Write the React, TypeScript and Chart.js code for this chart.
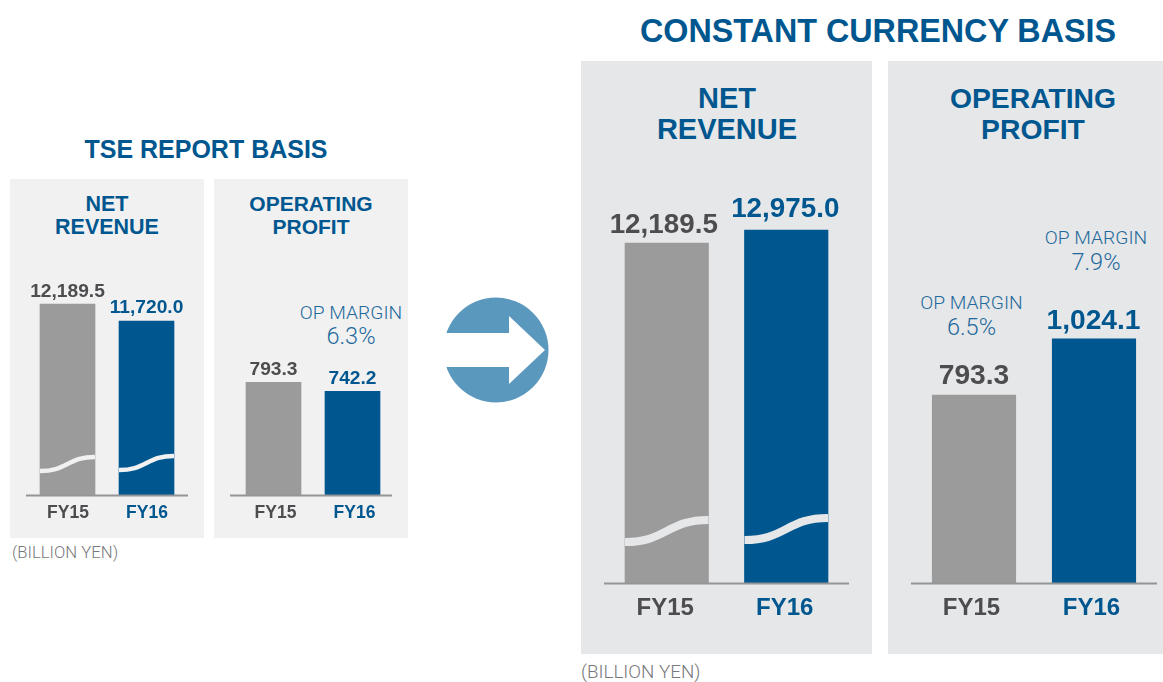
import React, { useEffect, useRef } from "react";
import { Chart, registerables } from "chart.js";

Chart.register(...registerables);

const categories = ["FY15", "FY16"];
const tseRevenue = [12189.5, 11720.0];
const tseProfit = [793.3, 742.2];
const ccRevenue = [12189.5, 12975.0];
const ccProfit = [793.3, 1024.1];

const GREY_BAR = "#9b9b9b";
const BLUE = "#00578f";
const DARK = "#4d4d4f";
const AXIS = "#939598";
const PANEL_L = "#f1f1f2";
const PANEL_R = "#e6e7e9";
const FONT = '"Liberation Sans", Arial, sans-serif';
const THIN = 'Roboto, "Liberation Sans", sans-serif';

type Spec = {
  values: number[];
  panel: [number, number, number, number];
  plotL: number; plotR: number; axisY: number;
  yMin: number; yMax: number;
  bar: number; valueFont: number; tickFont: number; tickPad: number; labelOffset: number;
  valueGap: [number, number]; valueDx: [number, number]; overL: number; overR: number; panelColor: string;
  breaks?: [number, number][]; breakWidth?: number;
};

const specs: Spec[] = [
  { values: tseRevenue, panel: [10, 179, 194, 359], plotL: 28, plotR: 186, axisY: 495, yMin: 6918, yMax: 15364, bar: 55, valueFont: 19.2, tickFont: 17.5, tickPad: 8, labelOffset: 0.5, valueGap: [7, 8], valueDx: [0, 0], overL: 2, overR: 2, panelColor: PANEL_L, breaks: [[24, 38], [25, 39]], breakWidth: 4.5 },
  { values: tseProfit, panel: [214, 179, 194, 359], plotL: 234, plotR: 392, axisY: 495, yMin: 155, yMax: 1889, bar: 55, valueFont: 19.2, tickFont: 17.5, tickPad: 8, labelOffset: 2, valueGap: [7, 7], valueDx: [0, 0], overL: 4, overR: 0, panelColor: PANEL_L },
  { values: ccRevenue, panel: [581, 61, 291, 593], plotL: 607, plotR: 846, axisY: 583, yMin: -8347, yMax: 22578, bar: 83.5, valueFont: 27.8, tickFont: 24, tickPad: 11, labelOffset: -1.5, valueGap: [10, 13], valueDx: [-3, -1], overL: 3, overR: 3, panelColor: PANEL_R, breaks: [[41, 63], [43, 65]], breakWidth: 8 },
  { values: ccProfit, panel: [888, 61, 275, 593], plotL: 914, plotR: 1154, axisY: 583, yMin: 18.7, yMax: 2128, bar: 83.5, valueFont: 28.2, tickFont: 24, tickPad: 11, labelOffset: -2.5, valueGap: [11, 10], valueDx: [0, -0.5], overL: 3, overR: 3, panelColor: PANEL_R },
];

const decor = {
  id: "decor",
  afterDatasetsDraw(chart: any) {
    const s: Spec = chart.options.plugins.decor.spec;
    const { ctx, chartArea } = chart;
    const meta = chart.getDatasetMeta(0);
    ctx.save();
    // broken-axis wave across tall bars
    if (s.breaks) {
      meta.data.forEach((el: any, i: number) => {
        const xl = el.x - s.bar / 2;
        const xr = el.x + s.bar / 2;
        const [a, b] = s.breaks![i];
        const y0 = chartArea.bottom - a;
        const y1 = chartArea.bottom - b;
        ctx.save();
        ctx.beginPath();
        ctx.rect(xl, chartArea.top, s.bar, chartArea.bottom - chartArea.top);
        ctx.clip();
        ctx.beginPath();
        ctx.moveTo(xl - 2, y0);
        ctx.bezierCurveTo(xl + s.bar * 0.5, y0 + 1, xl + s.bar * 0.5, y1 - 1, xr + 2, y1);
        ctx.strokeStyle = s.panelColor;
        ctx.lineWidth = s.breakWidth;
        ctx.stroke();
        ctx.restore();
      });
    }
    // baseline
    ctx.beginPath();
    ctx.moveTo(chartArea.left - s.overL, chartArea.bottom + 0.5);
    ctx.lineTo(chartArea.right + s.overR, chartArea.bottom + 0.5);
    ctx.strokeStyle = AXIS;
    ctx.lineWidth = 2;
    ctx.stroke();
    // value labels
    ctx.font = `bold ${s.valueFont}px ${FONT}`;
    ctx.textAlign = "center";
    ctx.textBaseline = "alphabetic";
    meta.data.forEach((el: any, i: number) => {
      ctx.fillStyle = i === 0 ? DARK : BLUE;
      const txt = s.values[i].toLocaleString("en-US", { minimumFractionDigits: 1, maximumFractionDigits: 1 });
      ctx.fillText(txt, el.x + s.valueDx[i], el.y - s.valueGap[i]);
    });
    ctx.restore();
  },
};

function MiniChart({ spec }: { spec: Spec }) {
  const ref = useRef<HTMLCanvasElement>(null);
  useEffect(() => {
    const [px, py, pw, ph] = spec.panel;
    const chart = new Chart(ref.current!, {
      type: "bar",
      data: {
        labels: categories,
        datasets: [{
          data: spec.values,
          backgroundColor: [GREY_BAR, BLUE],
          barThickness: spec.bar,
          base: spec.yMin,
          borderWidth: 0,
        } as any],
      },
      options: {
        responsive: false,
        animation: false,
        layout: { padding: { left: spec.plotL - px, right: px + pw - spec.plotR, top: 10, bottom: 0 } },
        plugins: { legend: { display: false }, tooltip: { enabled: false }, title: { display: false }, decor: { spec } } as any,
        scales: {
          x: {
            grid: { display: false, drawTicks: false },
            border: { display: false },
            afterFit: (scale: any) => { scale.height = py + ph - spec.axisY; },
            ticks: {
              color: [DARK, BLUE],
              font: { family: FONT, weight: "bold", size: spec.tickFont },
              padding: spec.tickPad,
              labelOffset: spec.labelOffset,
              maxRotation: 0,
            },
          } as any,
          y: { display: false, min: spec.yMin, max: spec.yMax },
        },
      },
      plugins: [decor],
    });
    return () => chart.destroy();
  }, []);
  const [px, py, pw, ph] = spec.panel;
  return <canvas ref={ref} width={pw} height={ph} style={{ position: "absolute", left: px, top: py, width: pw, height: ph }} />;
}

function T(p: { x: number; y: number; size: number; children: string; color?: string; bold?: boolean; thin?: boolean; anchor?: "start" | "middle" }) {
  return (
    <text x={p.x} y={p.y} fontSize={p.size} fill={p.color ?? BLUE} textAnchor={p.anchor ?? "middle"}
      fontFamily={p.thin ? THIN : FONT} fontWeight={p.bold ? 700 : p.thin ? 300 : 400}>
      {p.children}
    </text>
  );
}

const MARGIN = "#1f6a9c";
const NOTE = "#77787b";

export default function App() {
  return (
    <div style={{ position: "absolute", left: 0, top: 0, width: 1163, height: 682, overflow: "hidden", background: "#fff" }}>
      <svg width={1163} height={682} style={{ position: "absolute", left: 0, top: 0 }}>
        {specs.map((s, i) => (
          <rect key={i} x={s.panel[0]} y={s.panel[1]} width={s.panel[2]} height={s.panel[3]} fill={s.panelColor} />
        ))}
        <circle cx={496} cy={350} r={52.5} fill="#5b98bd" />
        <path d="M440 333 L509 333 L509 316 L545 350 L509 384 L509 367 L440 367 Z" fill="#fff" />
        <T x={206} y={158} size={25} bold>TSE REPORT BASIS</T>
        <T x={878} y={42} size={32.3} bold>CONSTANT CURRENCY BASIS</T>
        <T x={107} y={211} size={21.5} bold>NET</T>
        <T x={107} y={234} size={21.5} bold>REVENUE</T>
        <T x={311} y={211} size={21} bold>OPERATING</T>
        <T x={311} y={234} size={21} bold>PROFIT</T>
        <T x={727} y={108} size={29} bold>NET</T>
        <T x={727} y={139} size={29} bold>REVENUE</T>
        <T x={1033} y={108} size={28.3} bold>OPERATING</T>
        <T x={1033} y={138.5} size={28.3} bold>PROFIT</T>
        <T x={351} y={319} size={19.2} thin color={MARGIN}>OP MARGIN</T>
        <T x={351} y={344} size={23.5} thin color={MARGIN}>6.3%</T>
        <T x={971.5} y={309} size={19.2} thin color={MARGIN}>OP MARGIN</T>
        <T x={971.5} y={335} size={23.5} thin color={MARGIN}>6.5%</T>
        <T x={1096} y={244} size={19.2} thin color={MARGIN}>OP MARGIN</T>
        <T x={1096} y={270} size={23.5} thin color={MARGIN}>7.9%</T>
        <T x={12} y={558} size={16.7} thin color={NOTE} anchor="start">(BILLION YEN)</T>
        <T x={581} y={678} size={18.8} thin color={NOTE} anchor="start">(BILLION YEN)</T>
      </svg>
      {specs.map((s, i) => <MiniChart key={i} spec={s} />)}
    </div>
  );
}
